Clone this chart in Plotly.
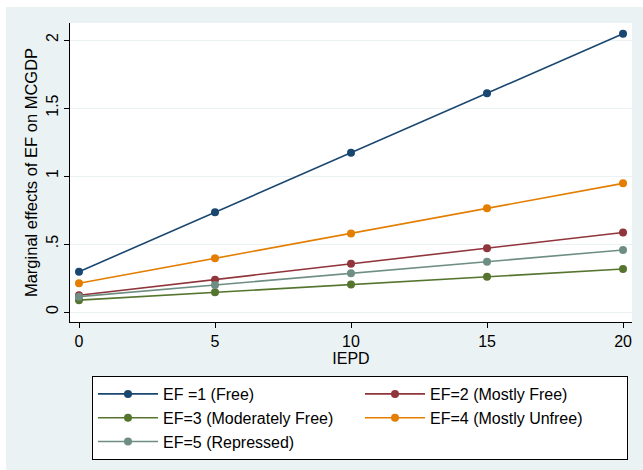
import plotly.graph_objects as go

# Marginal effects of economic freedom (EF) on MCGDP across IEPD levels
iepd = [0, 5, 10, 15, 20]

ef1_free = [0.296, 0.733, 1.171, 1.608, 2.046]
ef2_mostly_free = [0.123, 0.238, 0.354, 0.469, 0.585]
ef3_moderately_free = [0.087, 0.145, 0.202, 0.259, 0.316]
ef4_mostly_unfree = [0.211, 0.395, 0.578, 0.762, 0.946]
ef5_repressed = [0.113, 0.199, 0.285, 0.370, 0.456]

series_names = [
    "EF =1 (Free)",
    "EF=2 (Mostly Free)",
    "EF=3 (Moderately Free)",
    "EF=4 (Mostly Unfree)",
    "EF=5 (Repressed)",
]
series_values = [ef1_free, ef2_mostly_free, ef3_moderately_free,
                 ef4_mostly_unfree, ef5_repressed]
series_colors = ["#1a476f", "#90353b", "#55752f", "#e37e00", "#6e8e84"]

y_tickvals = [0, 0.5, 1, 1.5, 2]
y_ticktext = ["0", ".5", "1", "1.5", "2"]
x_tickvals = [0, 5, 10, 15, 20]

W, H = 643, 470
ML, MR, MT, MB = 70, 11, 23, 148
PW, PH = W - ML - MR, H - MT - MB

FONT = "Liberation Sans, Arial, sans-serif"
GRAPH_BG = "#eaf2f3"

fig = go.Figure()
for name, vals, color in zip(series_names, series_values, series_colors):
    fig.add_trace(go.Scatter(
        x=iepd, y=vals, name=name, mode="lines+markers",
        line=dict(color=color, width=1.6),
        marker=dict(color=color, size=8, symbol="circle"),
    ))

# white strips along the top and left edge of the outer graph region
fig.add_shape(type="rect", xref="paper", yref="paper", layer="below",
              x0=-ML / PW, x1=1 + MR / PW, y0=1 + (MT - 7) / PH, y1=1 + MT / PH,
              fillcolor="white", line=dict(width=0))
fig.add_shape(type="rect", xref="paper", yref="paper", layer="below",
              x0=-ML / PW, x1=-(ML - 6) / PW, y0=-MB / PH, y1=1 + MT / PH,
              fillcolor="white", line=dict(width=0))

fig.update_layout(
    width=W, height=H,
    margin=dict(l=ML, r=MR, t=MT, b=MB, pad=0, autoexpand=False),
    paper_bgcolor=GRAPH_BG,
    plot_bgcolor="white",
    font=dict(family=FONT, size=16, color="black"),
    showlegend=True,
    legend=dict(
        orientation="h",
        x=(92 - ML) / PW, xanchor="left",
        y=-(376 - (MT + PH)) / PH, yanchor="top",
        bgcolor="white", bordercolor="black", borderwidth=1,
        font=dict(family=FONT, size=16, color="black"),
        itemwidth=60,
        entrywidth=192,
        traceorder="normal",
    ),
    xaxis=dict(
        range=[-0.331, 20.33],
        tickvals=x_tickvals,
        ticks="outside", ticklen=5, tickcolor="black", tickwidth=1,
        showline=True, linecolor="black", linewidth=1,
        showgrid=False, zeroline=False,
        tickfont=dict(size=16),
        title=dict(text="IEPD", font=dict(size=16), standoff=2),
    ),
    yaxis=dict(
        range=[-0.0735, 2.125],
        tickvals=y_tickvals, ticktext=y_ticktext,
        tickangle=-90,
        ticks="outside", ticklen=5, tickcolor="black", tickwidth=1,
        showline=True, linecolor="black", linewidth=1,
        showgrid=True, gridcolor=GRAPH_BG, gridwidth=1,
        zeroline=False,
        tickfont=dict(size=16),
        title=dict(text="Marginal effects of EF on MCGDP", font=dict(size=16.5), standoff=1),
    ),
)

fig.write_html("out.html")
